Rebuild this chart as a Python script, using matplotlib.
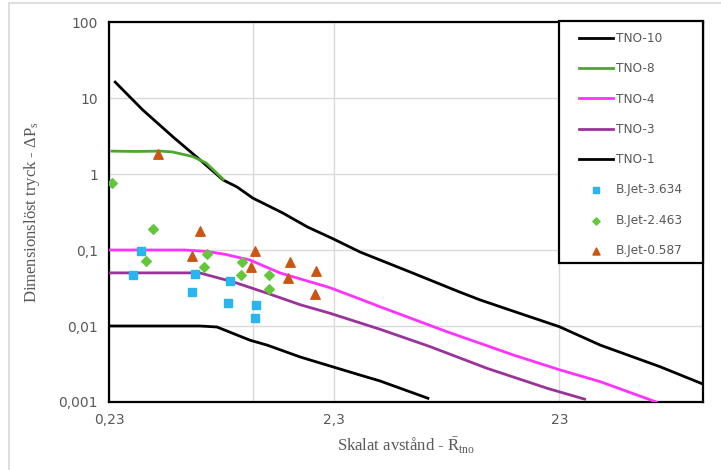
import numpy as np
import matplotlib.pyplot as plt
from matplotlib.patches import Rectangle

plt.rcParams['mathtext.fontset'] = 'custom'
plt.rcParams['mathtext.rm'] = 'Liberation Serif'
plt.rcParams['mathtext.it'] = 'Liberation Serif:italic'

# TNO multi-energy curves
tno10_x = [0.245, 0.325, 0.443, 0.584, 0.739, 0.852, 1.0, 1.36, 1.75, 2.28, 3.0, 5.0, 8.3, 10.25, 13.9, 23.0, 35.0, 64.7, 100.0]
tno10_y = [16.2, 6.95, 3.07, 1.53, 0.834, 0.675, 0.483, 0.307, 0.201, 0.14, 0.094, 0.0514, 0.028, 0.022, 0.0162, 0.0098, 0.0056, 0.0029, 0.00172]

tno8_x = [0.237, 0.30, 0.39, 0.44, 0.54, 0.62, 0.74]
tno8_y = [2.0, 1.98, 2.0, 1.95, 1.7, 1.4, 0.85]

tno4_x = [0.23, 0.5, 0.62, 0.75, 0.97, 1.32, 2.2, 3.0, 3.68, 7.3, 14.4, 23.2, 35.0, 62.0]
tno4_y = [0.1, 0.1, 0.096, 0.088, 0.074, 0.05, 0.032, 0.0226, 0.0179, 0.0084, 0.00415, 0.00264, 0.00185, 0.001]

tno3_x = [0.23, 0.58, 0.82, 1.16, 1.63, 2.19, 3.68, 6.15, 11.0, 20.4, 29.8]
tno3_y = [0.05, 0.05, 0.038, 0.027, 0.019, 0.0148, 0.00905, 0.00534, 0.00277, 0.00151, 0.00109]

tno1_x = [0.23, 0.584, 0.694, 0.973, 1.16, 1.63, 2.27, 3.0, 3.68, 6.0]
tno1_y = [0.01, 0.01, 0.0097, 0.0065, 0.0056, 0.0039, 0.0029, 0.00226, 0.00189, 0.00112]

# measured points
jet3634_x = [0.319, 0.295, 0.555, 0.54, 0.79, 0.78, 1.03, 1.02]
jet3634_y = [0.098, 0.0469, 0.0483, 0.0282, 0.0394, 0.0199, 0.0189, 0.0129]

jet2463_x = [0.236, 0.362, 0.335, 0.625, 0.61, 0.9, 0.89, 1.18, 1.18]
jet2463_y = [0.754, 0.187, 0.0723, 0.0886, 0.0592, 0.0689, 0.0469, 0.0469, 0.0304]

jet0587_x = [0.381, 0.584, 0.54, 1.02, 0.985, 1.46, 1.44, 1.91, 1.90]
jet0587_y = [1.83, 0.18, 0.0834, 0.098, 0.0603, 0.0689, 0.0432, 0.053, 0.0264]

fig = plt.figure(figsize=(7.21, 4.70), dpi=100)
ax = fig.add_axes([109/721, 68/470, 594/721, 380/470])

ax.plot(tno10_x, tno10_y, color='black', lw=2, label='TNO-10', zorder=3)
ax.plot(tno8_x, tno8_y, color='#4aa82e', lw=2, label='TNO-8', zorder=4)
ax.plot(tno4_x, tno4_y, color='#ff33ff', lw=2, label='TNO-4', zorder=3)
ax.plot(tno3_x, tno3_y, color='#993399', lw=2, label='TNO-3', zorder=3)
ax.plot(tno1_x, tno1_y, color='black', lw=2, label='TNO-1', zorder=3)

ax.scatter(jet3634_x, jet3634_y, marker='s', s=38, color='#29b5ee', label='B.Jet-3.634', zorder=5)
ax.scatter(jet2463_x, jet2463_y, marker='D', s=24, color='#62c83a', label='B.Jet-2.463', zorder=5)
ax.scatter(jet0587_x, jet0587_y, marker='^', s=46, color='#cc5512', label='B.Jet-0.587', zorder=5)

ax.set_xscale('log')
ax.set_yscale('log')
ax.set_xlim(0.23, 100)
ax.set_ylim(0.001, 100)

ax.set_xticks([0.23, 1, 2.3, 23])
ax.set_xticklabels(['0,23', '', '2,3', '23'])
ax.set_yticks([0.001, 0.01, 0.1, 1, 10, 100])
ax.set_yticklabels(['0,001', '0,01', '0,1', '1', '10', '100'])
ax.minorticks_off()
ax.tick_params(length=0, labelsize=10, colors='#595959', pad=8)
ax.grid(True, color='#d9d9d9', lw=1)
ax.set_axisbelow(True)
for s in ax.spines.values():
    s.set_linewidth(1.6)
    s.set_color('black')

ax.set_ylabel(r'Dimensionslöst tryck - $\Delta\mathrm{P}_{\mathrm{s}}$', family='Liberation Serif',
              fontsize=12, color='#595959', labelpad=12)
ax.set_xlabel(r'Skalat avstånd - $\bar{\mathrm{R}}_{\mathrm{tno}}$', family='Liberation Serif',
              fontsize=12, color='#595959', labelpad=6)

# legend box drawn separately so its size matches the reference
box = Rectangle((450/594, 139/380), 144/594, 242/380, transform=ax.transAxes,
                fc='white', ec='black', lw=1.6, zorder=9, clip_on=False)
ax.add_patch(box)
leg = ax.legend(loc='upper left', bbox_to_anchor=(470/594, 370/380), fontsize=8.7, frameon=False,
                borderaxespad=0, borderpad=0, labelspacing=1.43, handlelength=2.8,
                handletextpad=0.25, labelcolor='#595959', markerscale=0.75)
leg.set_zorder(10)

fig.patches.append(Rectangle((9/721, -0.05), 1.2, 1 - 3/470 + 0.05, transform=fig.transFigure,
                             fill=False, ec='#d9d9d9', lw=1.2))

plt.savefig('out.png', dpi=100)
